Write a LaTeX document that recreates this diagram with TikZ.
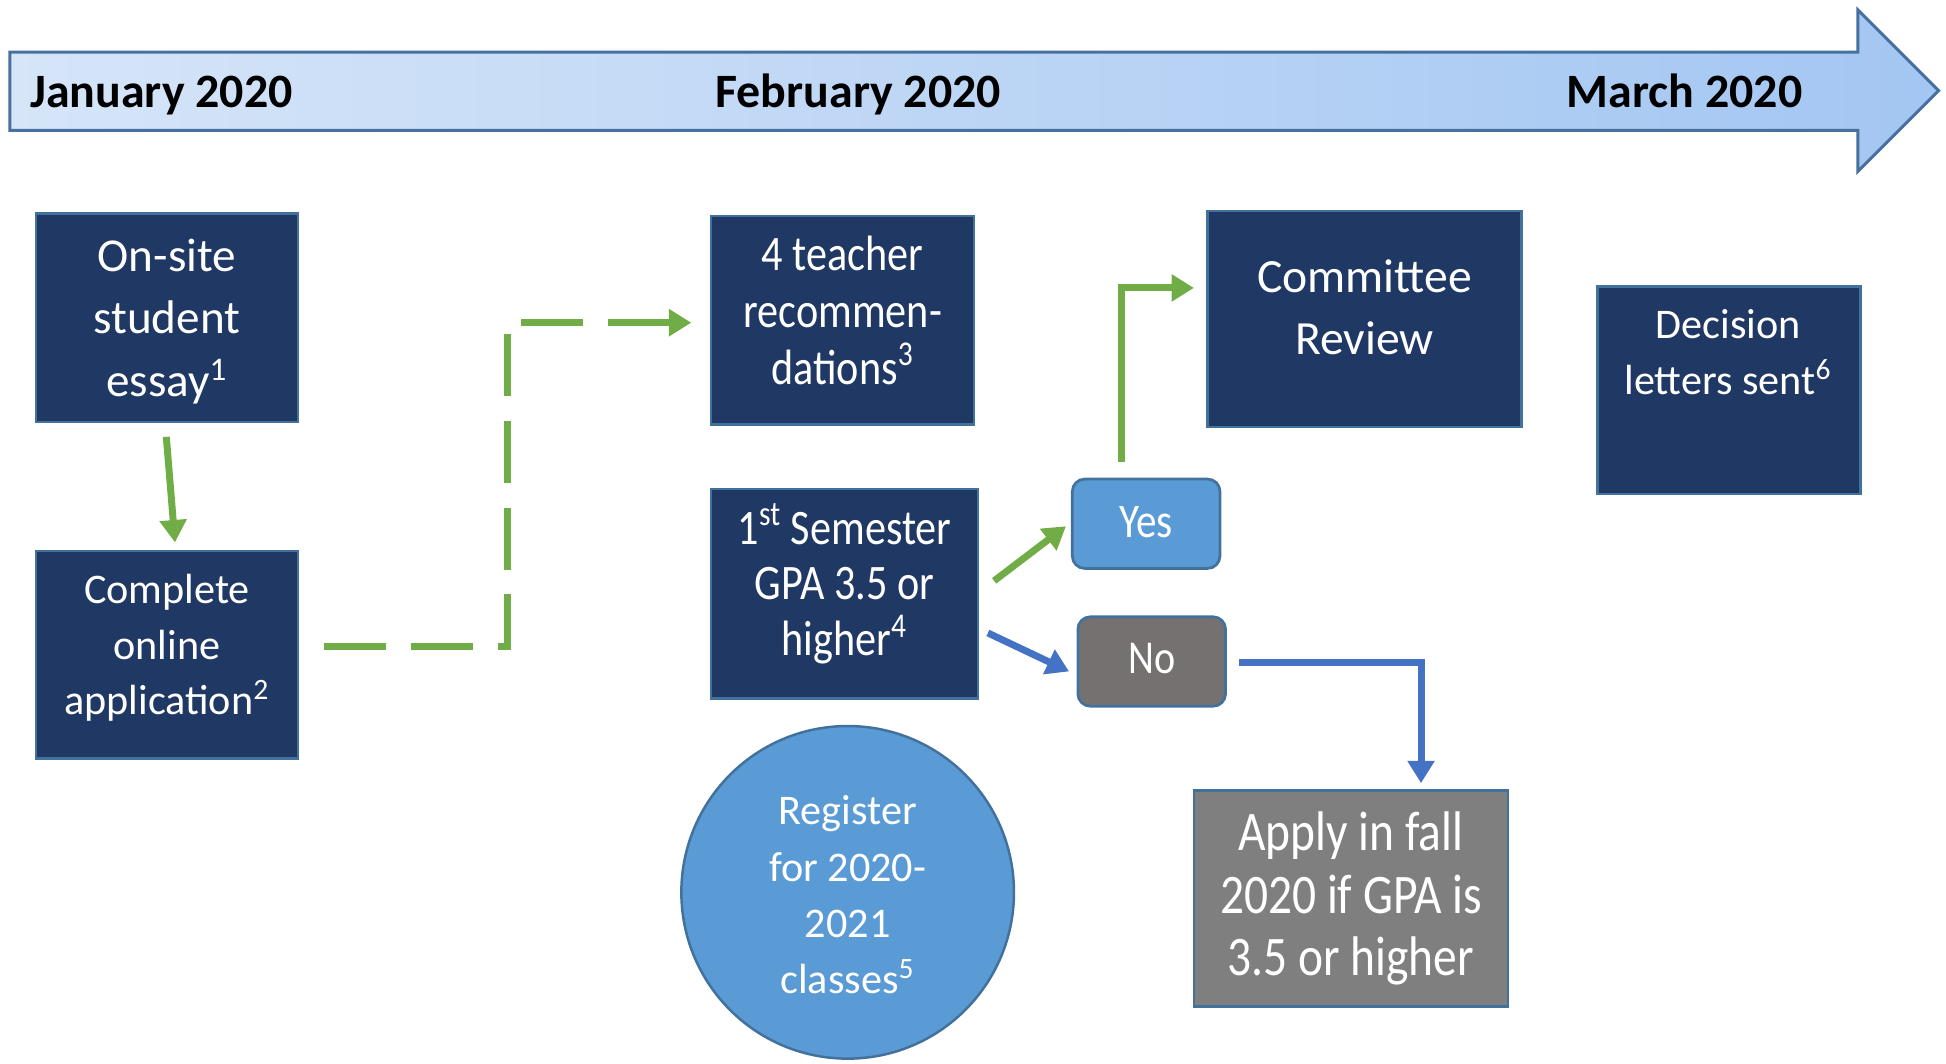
\documentclass[tikz,border=0pt]{standalone}
\usepackage{fontspec}
\setmainfont{Carlito}
\newfontfamily\condfont[FakeStretch=0.85]{Carlito}
\usetikzlibrary{arrows.meta,calc}
\definecolor{navy}{HTML}{203864}
\definecolor{edgeblue}{HTML}{41719C}
\definecolor{ggreen}{HTML}{70AD47}
\definecolor{lblue}{HTML}{4472C4}
\definecolor{midblue}{HTML}{5B9BD5}
\definecolor{nogray}{HTML}{767171}
\definecolor{applygray}{HTML}{7F7F7F}
\definecolor{bannerL}{HTML}{D6E5F8}
\definecolor{bannerR}{HTML}{A3C6F2}
\definecolor{bannerEdge}{HTML}{46709F}
\begin{document}
\begin{tikzpicture}[x=0.5pt,y=-0.5pt,
  darkbox/.style={draw=edgeblue,line width=1pt,fill=navy,inner sep=0pt},
  graybox/.style={draw=edgeblue,line width=1pt,fill=applygray,inner sep=0pt},
  pill/.style={draw=edgeblue,line width=1.1pt,rounded corners=5pt,inner sep=0pt,minimum width=59.5pt,minimum height=36pt},
  boxtext/.style={text=white,align=center,inner sep=0pt},
  gline/.style={draw=ggreen,line width=2.8pt,-{Triangle[length=9pt,width=10.5pt]}},
  bline/.style={draw=lblue,line width=2.8pt,-{Triangle[length=9pt,width=10.5pt]}},
  gdash/.style={draw=ggreen,line width=2.8pt,dash pattern=on 25pt off 10pt,-{Triangle[length=9pt,width=10.5pt]}},
  month/.style={font=\fontsize{19.3}{23}\selectfont\bfseries,inner sep=0pt}
]
\useasboundingbox (0,0) rectangle (1568,857);

% timeline banner
\draw[draw=bannerEdge,line width=1.2pt,left color=bannerL,right color=bannerR]
  (8,42) -- (1497,42) -- (1497,8) -- (1562,73) -- (1497,138) -- (1497,105) -- (8,105) -- cycle;
\node[month,anchor=base west] (jan) at (24,87) {January 2020};
\node[month,anchor=base] (feb) at (691.5,87) {February 2020};
\node[month,anchor=base] (mar) at (1357.5,87) {March 2020};

% boxes
\node[darkbox,minimum width=105.5pt,minimum height=84pt] (essay) at (134.5,256) {};
\node[boxtext,font=\fontsize{19}{25.25}\selectfont] (essaytxt) at (134.5,259) {On-site\\student\\essay\textsuperscript{1}};

\node[darkbox,minimum width=105.5pt,minimum height=83.5pt] (app) at (134.5,527.5) {};
\node[boxtext,font=\fontsize{17}{22.5}\selectfont] (apptxt) at (134.5,522) {Complete\\online\\application\textsuperscript{2}};

\node[darkbox,minimum width=106pt,minimum height=84pt] (teacher) at (679,258) {};
\node[boxtext,font=\condfont\fontsize{20}{23}\selectfont] (teachertxt) at (679,250) {4 teacher\\recommen-\\dations\textsuperscript{3}};

\node[darkbox,minimum width=107.5pt,minimum height=84.5pt] (gpa) at (680.5,478.5) {};
\node[boxtext,font=\condfont\fontsize{20}{22.5}\selectfont] (gpatxt) at (680.5,470.5) {1\textsuperscript{st} Semester\\GPA 3.5 or\\higher\textsuperscript{4}};

\node[darkbox,minimum width=126.5pt,minimum height=87pt] (committee) at (1099.5,257) {};
\node[boxtext,font=\fontsize{19.2}{25}\selectfont] (committeetxt) at (1099.5,247.5) {Committee\\Review};

\node[darkbox,minimum width=106pt,minimum height=83.5pt] (decision) at (1393,314.5) {};
\node[boxtext,font=\fontsize{17}{22.5}\selectfont] (decisiontxt) at (1392.5,284) {Decision\\letters sent\textsuperscript{6}};

\node[pill,fill=midblue] (yes) at (923.5,422) {};
\node[boxtext,font=\condfont\fontsize{19.5}{23}\selectfont] (yestxt) at (923.5,421) {Yes};

\node[pill,fill=nogray] (no) at (928,533) {};
\node[boxtext,font=\condfont\fontsize{19}{23}\selectfont] (notxt) at (928,531) {No};

\node[graybox,minimum width=126.5pt,minimum height=87pt] (apply) at (1088.5,724) {};
\node[boxtext,font=\condfont\fontsize{22.5}{25.25}\selectfont] (applytxt) at (1088.5,724) {Apply in fall\\2020 if GPA is\\3.5 or higher};

\node[circle,draw=edgeblue,line width=1pt,fill=midblue,minimum size=134pt,inner sep=0pt] (register) at (683,719) {};
\node[boxtext,font=\fontsize{17}{22.7}\selectfont] (registertxt) at (683,721) {Register\\for 2020-\\2021\\classes\textsuperscript{5}};

% connectors
\draw[gline] ($(essay.south)+(-0.5,11)$) -- ($(app.north)+(6.5,-6)$);
\draw[gdash] ($(app.east)+(20,-6.5)$) -| ($(teacher.west)+(-163,2)$) -- ($(teacher.west)+(-15,2)$);
\draw[gline] ($(gpa.east)+(12,-10.5)$) -- ($(yes.west)+(-4,2)$);
\draw[bline] ($(gpa.east)+(7,31.5)$) -- ($(no.west)+(-6,8)$);
\draw[gline] ($(yes.north)+(-19.5,-13)$) |- ($(committee.west)+(-10,-25)$);
\draw[bline] ($(no.east)+(10,1)$) -| ($(apply.north)+(56.5,-5)$);
\end{tikzpicture}
\end{document}
